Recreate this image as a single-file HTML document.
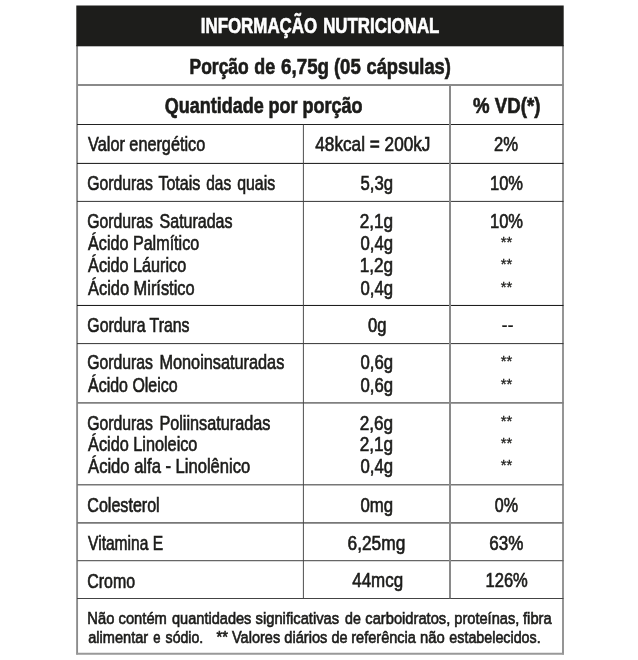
<!DOCTYPE html>
<html lang="pt-BR"><head><meta charset="utf-8"><title>Informação Nutricional</title>
<style>html,body{margin:0;padding:0;background:#fff;}body{width:638px;height:660px;overflow:hidden;}svg{display:block;}</style></head>
<body>
<svg width="638" height="660" viewBox="0 0 638 660">
<rect x="0" y="0" width="638" height="660" fill="#fff"/>
<g fill="none">
<line x1="77.1" y1="45" x2="77.1" y2="654.6" stroke="#8c8c8c" stroke-width="1.9"/>
<line x1="563" y1="45" x2="563" y2="654.6" stroke="#959595" stroke-width="2"/>
<line x1="76.2" y1="653.75" x2="564" y2="653.75" stroke="#999" stroke-width="1.8"/>
<line x1="77" y1="85.0" x2="563.5" y2="85.0" stroke="#8a8a8a" stroke-width="2"/>
<line x1="77" y1="124.5" x2="563.5" y2="124.5" stroke="#222" stroke-width="1"/>
<line x1="77" y1="163.4" x2="563.5" y2="163.4" stroke="#111" stroke-width="1"/>
<line x1="77" y1="201.4" x2="563.5" y2="201.4" stroke="#333" stroke-width="1"/>
<line x1="77" y1="305.45" x2="563.5" y2="305.45" stroke="#111" stroke-width="1"/>
<line x1="77" y1="343.6" x2="563.5" y2="343.6" stroke="#333" stroke-width="1.0"/>
<line x1="77" y1="402.9" x2="563.5" y2="402.9" stroke="#808080" stroke-width="1.6"/>
<line x1="77" y1="484.8" x2="563.5" y2="484.8" stroke="#777" stroke-width="1.5"/>
<line x1="77" y1="522.8" x2="563.5" y2="522.8" stroke="#777" stroke-width="1.8"/>
<line x1="77" y1="560.6" x2="563.5" y2="560.6" stroke="#666" stroke-width="1.3"/>
<line x1="77" y1="598.5" x2="563.5" y2="598.5" stroke="#444" stroke-width="1"/>
<line x1="303.4" y1="124.5" x2="303.4" y2="598.2" stroke="#444" stroke-width="0.95"/>
<line x1="450" y1="85" x2="450" y2="598.2" stroke="#8a8a8a" stroke-width="2"/>
</g>
<rect x="76.3" y="5.5" width="487.4" height="40.8" fill="#1d1d1b"/>
<g font-family="'Liberation Sans', Arial, Helvetica, sans-serif">
<text transform="translate(200.75 32.70) scale(0.7452 1.0)" font-size="22.7" font-weight="700" fill="#ffffff" stroke="#ffffff" stroke-width="0.6" vector-effect="non-scaling-stroke">INFORMAÇÃO</text>
<text transform="translate(323.14 32.70) scale(0.7439 1.0)" font-size="22.7" font-weight="700" fill="#ffffff" stroke="#ffffff" stroke-width="0.6" vector-effect="non-scaling-stroke">NUTRICIONAL</text>
<text transform="translate(189.52 74.10) scale(0.7803 1.0)" font-size="22.4" font-weight="700" fill="#1c1c1a" stroke="#1c1c1a" stroke-width="0.6" vector-effect="non-scaling-stroke">Porção</text>
<text transform="translate(254.25 74.10) scale(0.7972 1.0)" font-size="22.4" font-weight="700" fill="#1c1c1a" stroke="#1c1c1a" stroke-width="0.6" vector-effect="non-scaling-stroke">de</text>
<text transform="translate(281.07 74.10) scale(0.8379 1.0)" font-size="22.4" font-weight="700" fill="#1c1c1a" stroke="#1c1c1a" stroke-width="0.6" vector-effect="non-scaling-stroke">6,75g</text>
<text transform="translate(333.90 74.10) scale(0.8296 1.0)" font-size="22.4" font-weight="700" fill="#1c1c1a" stroke="#1c1c1a" stroke-width="0.6" vector-effect="non-scaling-stroke">(05</text>
<text transform="translate(366.52 74.10) scale(0.8166 1.0)" font-size="22.4" font-weight="700" fill="#1c1c1a" stroke="#1c1c1a" stroke-width="0.6" vector-effect="non-scaling-stroke">cápsulas)</text>
<text transform="translate(164.80 112.90) scale(0.8028 1.0)" font-size="22.4" font-weight="700" fill="#1c1c1a" stroke="#1c1c1a" stroke-width="0.6" vector-effect="non-scaling-stroke">Quantidade</text>
<text transform="translate(268.47 112.90) scale(0.8028 1.0)" font-size="22.4" font-weight="700" fill="#1c1c1a" stroke="#1c1c1a" stroke-width="0.6" vector-effect="non-scaling-stroke">por</text>
<text transform="translate(302.61 112.90) scale(0.8028 1.0)" font-size="22.4" font-weight="700" fill="#1c1c1a" stroke="#1c1c1a" stroke-width="0.6" vector-effect="non-scaling-stroke">porção</text>
<text transform="translate(473.10 112.90) scale(0.8321 1.0)" font-size="22.4" font-weight="700" fill="#1c1c1a" stroke="#1c1c1a" stroke-width="0.6" vector-effect="non-scaling-stroke">% VD(*)</text>
<text transform="translate(88.10 151.00) scale(0.8012 1.0)" font-size="20.3" fill="#1c1c1a" stroke="#1c1c1a" stroke-width="0.6" vector-effect="non-scaling-stroke">Valor energético</text>
<text transform="translate(87.32 189.55) scale(0.7770 1.0)" font-size="20.3" fill="#1c1c1a" stroke="#1c1c1a" stroke-width="0.6" vector-effect="non-scaling-stroke">Gorduras</text>
<text transform="translate(158.40 189.55) scale(0.7911 1.0)" font-size="20.3" fill="#1c1c1a" stroke="#1c1c1a" stroke-width="0.6" vector-effect="non-scaling-stroke">Totais</text>
<text transform="translate(206.20 189.55) scale(0.7617 1.0)" font-size="20.3" fill="#1c1c1a" stroke="#1c1c1a" stroke-width="0.6" vector-effect="non-scaling-stroke">das</text>
<text transform="translate(237.20 189.55) scale(0.7819 1.0)" font-size="20.3" fill="#1c1c1a" stroke="#1c1c1a" stroke-width="0.6" vector-effect="non-scaling-stroke">quais</text>
<text transform="translate(87.32 228.10) scale(0.7770 1.0)" font-size="20.3" fill="#1c1c1a" stroke="#1c1c1a" stroke-width="0.6" vector-effect="non-scaling-stroke">Gorduras</text>
<text transform="translate(159.60 228.10) scale(0.7886 1.0)" font-size="20.3" fill="#1c1c1a" stroke="#1c1c1a" stroke-width="0.6" vector-effect="non-scaling-stroke">Saturadas</text>
<text transform="translate(88.10 250.10) scale(0.7943 1.0)" font-size="20.3" fill="#1c1c1a" stroke="#1c1c1a" stroke-width="0.6" vector-effect="non-scaling-stroke">Ácido Palmítico</text>
<text transform="translate(88.10 272.40) scale(0.7977 1.0)" font-size="20.3" fill="#1c1c1a" stroke="#1c1c1a" stroke-width="0.6" vector-effect="non-scaling-stroke">Ácido Láurico</text>
<text transform="translate(88.10 294.70) scale(0.8071 1.0)" font-size="20.3" fill="#1c1c1a" stroke="#1c1c1a" stroke-width="0.6" vector-effect="non-scaling-stroke">Ácido Mirístico</text>
<text transform="translate(87.32 331.90) scale(0.7809 1.0)" font-size="20.3" fill="#1c1c1a" stroke="#1c1c1a" stroke-width="0.6" vector-effect="non-scaling-stroke">Gordura Trans</text>
<text transform="translate(87.32 369.40) scale(0.7770 1.0)" font-size="20.3" fill="#1c1c1a" stroke="#1c1c1a" stroke-width="0.6" vector-effect="non-scaling-stroke">Gorduras</text>
<text transform="translate(159.40 369.40) scale(0.8029 1.0)" font-size="20.3" fill="#1c1c1a" stroke="#1c1c1a" stroke-width="0.6" vector-effect="non-scaling-stroke">Monoinsaturadas</text>
<text transform="translate(88.10 391.80) scale(0.7854 1.0)" font-size="20.3" fill="#1c1c1a" stroke="#1c1c1a" stroke-width="0.6" vector-effect="non-scaling-stroke">Ácido Oleico</text>
<text transform="translate(87.32 429.60) scale(0.7770 1.0)" font-size="20.3" fill="#1c1c1a" stroke="#1c1c1a" stroke-width="0.6" vector-effect="non-scaling-stroke">Gorduras</text>
<text transform="translate(159.40 429.60) scale(0.7998 1.0)" font-size="20.3" fill="#1c1c1a" stroke="#1c1c1a" stroke-width="0.6" vector-effect="non-scaling-stroke">Poliinsaturadas</text>
<text transform="translate(88.10 451.30) scale(0.8014 1.0)" font-size="20.3" fill="#1c1c1a" stroke="#1c1c1a" stroke-width="0.6" vector-effect="non-scaling-stroke">Ácido Linoleico</text>
<text transform="translate(88.10 473.10) scale(0.8171 1.0)" font-size="20.3" fill="#1c1c1a" stroke="#1c1c1a" stroke-width="0.6" vector-effect="non-scaling-stroke">Ácido alfa - Linolênico</text>
<text transform="translate(87.31 511.95) scale(0.7929 1.0)" font-size="20.3" fill="#1c1c1a" stroke="#1c1c1a" stroke-width="0.6" vector-effect="non-scaling-stroke">Colesterol</text>
<text transform="translate(88.10 550.15) scale(0.7667 1.0)" font-size="20.3" fill="#1c1c1a" stroke="#1c1c1a" stroke-width="0.6" vector-effect="non-scaling-stroke">Vitamina E</text>
<text transform="translate(87.32 587.75) scale(0.7847 1.0)" font-size="20.3" fill="#1c1c1a" stroke="#1c1c1a" stroke-width="0.6" vector-effect="non-scaling-stroke">Cromo</text>
<text transform="translate(315.30 151.00) scale(0.8477 1.0)" font-size="20.3" fill="#1c1c1a" stroke="#1c1c1a" stroke-width="0.6" vector-effect="non-scaling-stroke">48kcal = 200kJ</text>
<text transform="translate(360.50 190.05) scale(0.8247 1.0)" font-size="20.3" fill="#1c1c1a" stroke="#1c1c1a" stroke-width="0.6" vector-effect="non-scaling-stroke">5,3g</text>
<text transform="translate(359.65 228.10) scale(0.8469 1.0)" font-size="20.3" fill="#1c1c1a" stroke="#1c1c1a" stroke-width="0.6" vector-effect="non-scaling-stroke">2,1g</text>
<text transform="translate(360.50 250.10) scale(0.8247 1.0)" font-size="20.3" fill="#1c1c1a" stroke="#1c1c1a" stroke-width="0.6" vector-effect="non-scaling-stroke">0,4g</text>
<text transform="translate(359.65 272.40) scale(0.8469 1.0)" font-size="20.3" fill="#1c1c1a" stroke="#1c1c1a" stroke-width="0.6" vector-effect="non-scaling-stroke">1,2g</text>
<text transform="translate(360.50 294.70) scale(0.8247 1.0)" font-size="20.3" fill="#1c1c1a" stroke="#1c1c1a" stroke-width="0.6" vector-effect="non-scaling-stroke">0,4g</text>
<text transform="translate(368.00 331.90) scale(0.8177 1.0)" font-size="20.3" fill="#1c1c1a" stroke="#1c1c1a" stroke-width="0.6" vector-effect="non-scaling-stroke">0g</text>
<text transform="translate(360.50 369.40) scale(0.8247 1.0)" font-size="20.3" fill="#1c1c1a" stroke="#1c1c1a" stroke-width="0.6" vector-effect="non-scaling-stroke">0,6g</text>
<text transform="translate(360.50 391.80) scale(0.8247 1.0)" font-size="20.3" fill="#1c1c1a" stroke="#1c1c1a" stroke-width="0.6" vector-effect="non-scaling-stroke">0,6g</text>
<text transform="translate(359.65 429.60) scale(0.8469 1.0)" font-size="20.3" fill="#1c1c1a" stroke="#1c1c1a" stroke-width="0.6" vector-effect="non-scaling-stroke">2,6g</text>
<text transform="translate(359.65 451.30) scale(0.8469 1.0)" font-size="20.3" fill="#1c1c1a" stroke="#1c1c1a" stroke-width="0.6" vector-effect="non-scaling-stroke">2,1g</text>
<text transform="translate(360.50 473.10) scale(0.8247 1.0)" font-size="20.3" fill="#1c1c1a" stroke="#1c1c1a" stroke-width="0.6" vector-effect="non-scaling-stroke">0,4g</text>
<text transform="translate(360.50 511.55) scale(0.8252 1.0)" font-size="20.3" fill="#1c1c1a" stroke="#1c1c1a" stroke-width="0.6" vector-effect="non-scaling-stroke">0mg</text>
<text transform="translate(347.55 549.75) scale(0.8536 1.0)" font-size="20.3" fill="#1c1c1a" stroke="#1c1c1a" stroke-width="0.6" vector-effect="non-scaling-stroke">6,25mg</text>
<text transform="translate(352.20 587.25) scale(0.8357 1.0)" font-size="20.3" fill="#1c1c1a" stroke="#1c1c1a" stroke-width="0.6" vector-effect="non-scaling-stroke">44mcg</text>
<text transform="translate(493.88 151.00) scale(0.8204 1.0)" font-size="20.3" fill="#1c1c1a" stroke="#1c1c1a" stroke-width="0.6" vector-effect="non-scaling-stroke">2%</text>
<text transform="translate(489.99 190.05) scale(0.8140 1.0)" font-size="20.3" fill="#1c1c1a" stroke="#1c1c1a" stroke-width="0.6" vector-effect="non-scaling-stroke">10%</text>
<text transform="translate(489.99 228.10) scale(0.8140 1.0)" font-size="20.3" fill="#1c1c1a" stroke="#1c1c1a" stroke-width="0.6" vector-effect="non-scaling-stroke">10%</text>
<text transform="translate(500.75 246.90) scale(0.9884 1.0)" font-size="15" fill="#1c1c1a" stroke="#1c1c1a" stroke-width="0.3" vector-effect="non-scaling-stroke">**</text>
<text transform="translate(500.75 269.20) scale(0.9884 1.0)" font-size="15" fill="#1c1c1a" stroke="#1c1c1a" stroke-width="0.3" vector-effect="non-scaling-stroke">**</text>
<text transform="translate(500.75 291.50) scale(0.9884 1.0)" font-size="15" fill="#1c1c1a" stroke="#1c1c1a" stroke-width="0.3" vector-effect="non-scaling-stroke">**</text>
<text transform="translate(501.38 332.30) scale(0.9056 1.0)" font-size="20.3" fill="#1c1c1a" stroke="#1c1c1a" stroke-width="0.15" vector-effect="non-scaling-stroke">--</text>
<text transform="translate(500.75 366.20) scale(0.9884 1.0)" font-size="15" fill="#1c1c1a" stroke="#1c1c1a" stroke-width="0.3" vector-effect="non-scaling-stroke">**</text>
<text transform="translate(500.75 388.60) scale(0.9884 1.0)" font-size="15" fill="#1c1c1a" stroke="#1c1c1a" stroke-width="0.3" vector-effect="non-scaling-stroke">**</text>
<text transform="translate(500.75 426.40) scale(0.9884 1.0)" font-size="15" fill="#1c1c1a" stroke="#1c1c1a" stroke-width="0.3" vector-effect="non-scaling-stroke">**</text>
<text transform="translate(500.75 448.10) scale(0.9884 1.0)" font-size="15" fill="#1c1c1a" stroke="#1c1c1a" stroke-width="0.3" vector-effect="non-scaling-stroke">**</text>
<text transform="translate(500.75 469.90) scale(0.9884 1.0)" font-size="15" fill="#1c1c1a" stroke="#1c1c1a" stroke-width="0.3" vector-effect="non-scaling-stroke">**</text>
<text transform="translate(494.70 511.55) scale(0.7924 1.0)" font-size="20.3" fill="#1c1c1a" stroke="#1c1c1a" stroke-width="0.6" vector-effect="non-scaling-stroke">0%</text>
<text transform="translate(489.36 549.75) scale(0.8393 1.0)" font-size="20.3" fill="#1c1c1a" stroke="#1c1c1a" stroke-width="0.6" vector-effect="non-scaling-stroke">63%</text>
<text transform="translate(485.48 587.25) scale(0.8163 1.0)" font-size="20.3" fill="#1c1c1a" stroke="#1c1c1a" stroke-width="0.6" vector-effect="non-scaling-stroke">126%</text>
<text transform="translate(87.33 623.80) scale(0.8683 1.0)" font-size="17" fill="#1c1c1a" stroke="#1c1c1a" stroke-width="0.6" vector-effect="non-scaling-stroke">Não</text>
<text transform="translate(118.51 623.80) scale(0.8683 1.0)" font-size="17" fill="#1c1c1a" stroke="#1c1c1a" stroke-width="0.6" vector-effect="non-scaling-stroke">contém</text>
<text transform="translate(172.01 623.80) scale(0.8574 1.0)" font-size="17" fill="#1c1c1a" stroke="#1c1c1a" stroke-width="0.6" vector-effect="non-scaling-stroke">quantidades</text>
<text transform="translate(255.55 623.80) scale(0.8683 1.0)" font-size="17" fill="#1c1c1a" stroke="#1c1c1a" stroke-width="0.6" vector-effect="non-scaling-stroke">significativas</text>
<text transform="translate(345.12 623.80) scale(0.8357 1.0)" font-size="17" fill="#1c1c1a" stroke="#1c1c1a" stroke-width="0.6" vector-effect="non-scaling-stroke">de</text>
<text transform="translate(365.34 623.80) scale(0.8652 1.0)" font-size="17" fill="#1c1c1a" stroke="#1c1c1a" stroke-width="0.6" vector-effect="non-scaling-stroke">carboidratos,</text>
<text transform="translate(454.28 623.80) scale(0.8601 1.0)" font-size="17" fill="#1c1c1a" stroke="#1c1c1a" stroke-width="0.6" vector-effect="non-scaling-stroke">proteínas,</text>
<text transform="translate(523.01 623.80) scale(0.8683 1.0)" font-size="17" fill="#1c1c1a" stroke="#1c1c1a" stroke-width="0.6" vector-effect="non-scaling-stroke">fibra</text>
<text transform="translate(88.20 642.50) scale(0.8579 1.0)" font-size="17" fill="#1c1c1a" stroke="#1c1c1a" stroke-width="0.6" vector-effect="non-scaling-stroke">alimentar</text>
<text transform="translate(153.24 642.50) scale(0.7691 1.0)" font-size="17" fill="#1c1c1a" stroke="#1c1c1a" stroke-width="0.6" vector-effect="non-scaling-stroke">e</text>
<text transform="translate(165.60 642.50) scale(0.8311 1.0)" font-size="17" fill="#1c1c1a" stroke="#1c1c1a" stroke-width="0.6" vector-effect="non-scaling-stroke">sódio.</text>
<text transform="translate(216.60 642.50) scale(0.8665 1.0)" font-size="17" fill="#1c1c1a" stroke="#1c1c1a" stroke-width="0.6" vector-effect="non-scaling-stroke">**</text>
<text transform="translate(231.99 642.50) scale(0.8554 1.0)" font-size="17" fill="#1c1c1a" stroke="#1c1c1a" stroke-width="0.6" vector-effect="non-scaling-stroke">Valores</text>
<text transform="translate(284.24 642.50) scale(0.8619 1.0)" font-size="17" fill="#1c1c1a" stroke="#1c1c1a" stroke-width="0.6" vector-effect="non-scaling-stroke">diários</text>
<text transform="translate(331.42 642.50) scale(0.8518 1.0)" font-size="17" fill="#1c1c1a" stroke="#1c1c1a" stroke-width="0.6" vector-effect="non-scaling-stroke">de</text>
<text transform="translate(351.24 642.50) scale(0.8558 1.0)" font-size="17" fill="#1c1c1a" stroke="#1c1c1a" stroke-width="0.6" vector-effect="non-scaling-stroke">referência</text>
<text transform="translate(419.94 642.50) scale(0.8704 1.0)" font-size="17" fill="#1c1c1a" stroke="#1c1c1a" stroke-width="0.6" vector-effect="non-scaling-stroke">não</text>
<text transform="translate(449.34 642.50) scale(0.8407 1.0)" font-size="17" fill="#1c1c1a" stroke="#1c1c1a" stroke-width="0.6" vector-effect="non-scaling-stroke">estabelecidos.</text>
</g></svg>
</body></html>
